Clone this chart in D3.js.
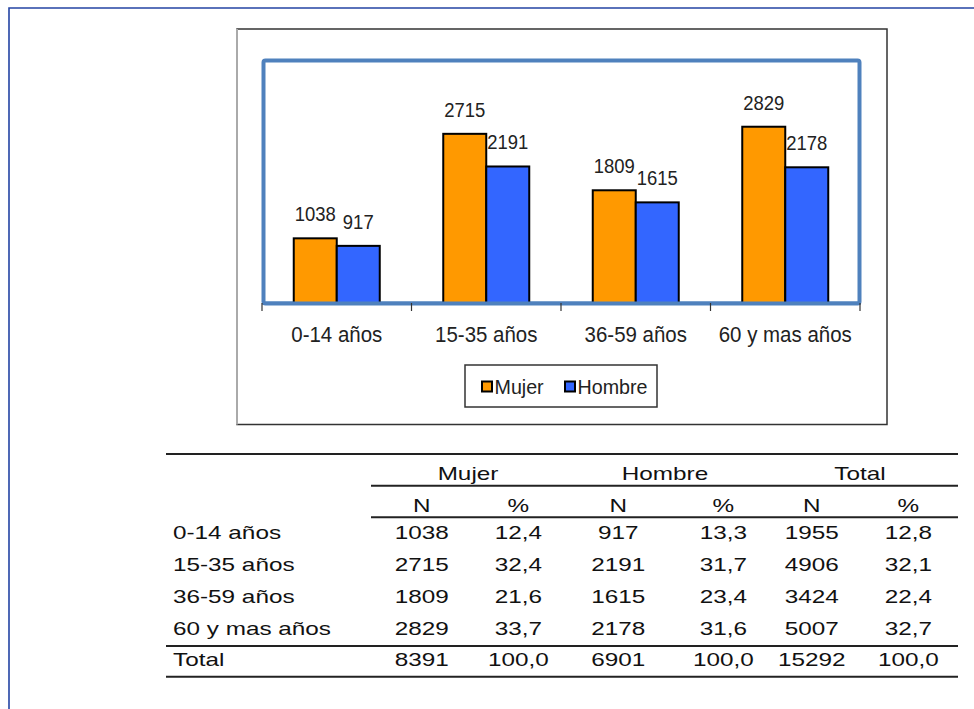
<!DOCTYPE html>
<html>
<head>
<meta charset="utf-8">
<script src="https://cdn.jsdelivr.net/npm/d3@7"></script>
<style>
  body { margin: 0; background: #fff; }
  svg { display: block; font-family: "Liberation Sans", Arial, sans-serif; }
</style>
</head>
<body>
<svg width="974" height="709"></svg>
<script>
// data
var categories = ["0-14 años", "15-35 años", "36-59 años", "60 y mas años"];
var series = ["Mujer", "Hombre"];
var mujer = [1038, 2715, 1809, 2829];
var hombre = [917, 2191, 1615, 2178];
var mujerPct = [12.4, 32.4, 21.6, 33.7];
var hombrePct = [13.3, 31.7, 23.4, 31.6];
var totalN = [1955, 4906, 3424, 5007];
var totalPct = [12.8, 32.1, 22.4, 32.7];
var totalRow = [8391, 100.0, 6901, 100.0, 15292, 100.0];

var colors = { Mujer: "#ff9900", Hombre: "#3366ff" };

var svg = d3.select("svg");

// outer page frame
svg.append("path")
  .attr("d", "M9,709 L9,8 L974,8")
  .attr("fill", "none")
  .attr("stroke", "#2444a4")
  .attr("stroke-width", 1.6);

// chart box
svg.append("rect")
  .attr("x", 237).attr("y", 29).attr("width", 650).attr("height", 395.5)
  .attr("fill", "#fff").attr("stroke", "#333").attr("stroke-width", 1.5);
svg.append("line")
  .attr("x1", 237).attr("x2", 237).attr("y1", 29).attr("y2", 424.5)
  .attr("stroke", "#aaa").attr("stroke-width", 2);

var x = d3.scaleBand().domain(categories).range([262, 860]);
var sub = d3.scaleBand().domain(series)
  .range([x.bandwidth() / 2 - 43, x.bandwidth() / 2 + 43]);
var y = d3.scaleLinear().domain([0, 3900]).range([303, 60]);

// plot area border
svg.append("rect")
  .attr("x", 263.5).attr("y", 60.5).attr("width", 596).attr("height", 243)
  .attr("rx", 2)
  .attr("fill", "none").attr("stroke", "#4f81bd").attr("stroke-width", 4);

var rows = categories.map(function(c, i) {
  return { cat: c, vals: [{ s: "Mujer", v: mujer[i] }, { s: "Hombre", v: hombre[i] }] };
});

var groups = svg.append("g").selectAll("g")
  .data(rows)
  .enter().append("g")
  .attr("transform", function(d) { return "translate(" + x(d.cat) + ",0)"; });

groups.selectAll("rect")
  .data(function(d) { return d.vals; })
  .enter().append("rect")
  .attr("x", function(d) { return sub(d.s); })
  .attr("y", function(d) { return y(d.v); })
  .attr("width", sub.bandwidth())
  .attr("height", function(d) { return y(0) - y(d.v); })
  .attr("fill", function(d) { return colors[d.s]; })
  .attr("stroke", "#000")
  .attr("stroke-width", 2);

groups.selectAll("text")
  .data(function(d) { return d.vals; })
  .enter().append("text")
  .attr("transform", function(d) {
    return "translate(" + (sub(d.s) + sub.bandwidth() / 2) + "," + (y(d.v) - 17) + ") scale(0.88,1)";
  })
  .attr("text-anchor", "middle")
  .attr("font-size", 21)
  .attr("fill", "#222")
  .text(function(d) { return d.v; });

// x axis
var axis = svg.append("g").attr("transform", "translate(0,303)");
axis.append("line")
  .attr("x1", 262).attr("x2", 861).attr("y1", 0).attr("y2", 0)
  .attr("stroke", "#4f81bd").attr("stroke-width", 3);
var tickPos = categories.map(function(c) { return x(c); }).concat([x.range()[1]]);
axis.selectAll("line.tick")
  .data(tickPos)
  .enter().append("line")
  .attr("class", "tick")
  .attr("x1", function(d) { return d; }).attr("x2", function(d) { return d; })
  .attr("y1", 0).attr("y2", 8)
  .attr("stroke", "#333").attr("stroke-width", 1.2);
axis.selectAll("text")
  .data(categories)
  .enter().append("text")
  .attr("transform", function(d) {
    return "translate(" + (x(d) + x.bandwidth() / 2) + ",39) scale(0.93,1)";
  })
  .attr("text-anchor", "middle")
  .attr("font-size", 22)
  .attr("fill", "#222")
  .text(function(d) { return d; });

// legend
var legend = svg.append("g");
legend.append("rect")
  .attr("x", 465).attr("y", 365).attr("width", 192).attr("height", 42)
  .attr("fill", "#fff").attr("stroke", "#333").attr("stroke-width", 1.5);
var legX = { Mujer: 481, Hombre: 564 };
series.forEach(function(s) {
  legend.append("rect")
    .attr("x", legX[s] + 1).attr("y", 381.5).attr("width", 10).attr("height", 10)
    .attr("fill", colors[s]).attr("stroke", "#000").attr("stroke-width", 2);
  legend.append("text")
    .attr("transform", "translate(" + (legX[s] + 13.5) + ",393.5) scale(0.96,1)")
    .attr("font-size", 20.5)
    .attr("fill", "#222")
    .text(s);
});

// table
var fmt = function(v) { return v.toFixed(1).replace(".", ","); };
var table = svg.append("g");
var colX = [421.7, 518.3, 618.3, 723.3, 811.7, 908.3];
var groupX = [468, 665, 860];
var tableFont = 18, sx = 1.35;

function cell(tx, ty, txt, anchor) {
  table.append("text")
    .attr("transform", "translate(" + tx + "," + ty + ") scale(" + sx + ",1)")
    .attr("text-anchor", anchor || "middle")
    .attr("font-size", tableFont)
    .attr("fill", "#111")
    .text(txt);
}

function hline(x1, x2, yy) {
  table.append("line")
    .attr("x1", x1).attr("x2", x2).attr("y1", yy).attr("y2", yy)
    .attr("stroke", "#222").attr("stroke-width", 2);
}

hline(166, 958, 454);
hline(371, 958, 485.7);
hline(371, 958, 517.3);
hline(166, 958, 646);
hline(166, 958, 676.7);

["Mujer", "Hombre", "Total"].forEach(function(h, i) { cell(groupX[i], 480, h); });
colX.forEach(function(cx, i) { cell(cx, 511.5, i % 2 === 0 ? "N" : "%"); });

var rowY = [539.3, 571, 602.7, 635];
categories.forEach(function(c, i) {
  cell(173, rowY[i], c, "start");
  var vals = [mujer[i], fmt(mujerPct[i]), hombre[i], fmt(hombrePct[i]), totalN[i], fmt(totalPct[i])];
  vals.forEach(function(v, j) { cell(colX[j], rowY[i], v); });
});
cell(173, 665.7, "Total", "start");
totalRow.forEach(function(v, j) { cell(colX[j], 665.7, j % 2 === 0 ? v : fmt(v)); });
</script>
</body>
</html>
